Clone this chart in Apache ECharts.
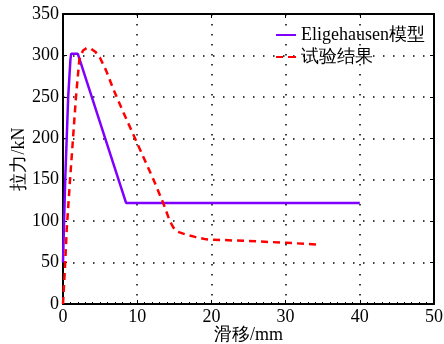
<!DOCTYPE html>
<html>
<head>
<meta charset="utf-8">
<script src="https://cdn.jsdelivr.net/npm/echarts@6/dist/echarts.min.js"></script>
<style>html,body{margin:0;padding:0;background:#fff}#c{width:444px;height:344px}</style>
</head>
<body>
<div id="c"></div>
<script>
var modelName = 'Eligehausen模型';
var testName = '试验结果';
var modelX = [0, 0.3, 0.7, 1.0, 1.1, 2.0, 8.5, 40];
var modelY = [50, 150, 250, 295, 302, 302, 122, 122];
var testX = [0, 0.3, 0.5, 0.95, 1.75, 2.2, 2.7, 3.2, 3.8, 4.4, 5.0, 5.8, 6.8, 8.0, 9.7, 12.2, 13.5, 14.4, 14.9, 15.5, 16.5, 17.8, 19.3, 25, 30, 34.6];
var testY = [0, 50, 90, 150, 250, 295, 306, 309, 308, 304, 297, 282, 259, 234, 200, 150, 122, 100, 92, 87, 84, 81, 78, 76, 74, 71.5];
var xTicks = [0, 10, 20, 30, 40, 50];
var yTicks = [0, 50, 100, 150, 200, 250, 300, 350];

function pairs(xs, ys) { return xs.map(function (x, i) { return [x, ys[i]]; }); }

var font = '"Liberation Serif","Times New Roman",serif';
var gridLine = { show: true, lineStyle: { color: '#000', type: [1.5, 8.5], width: 1.5 } };
var chart = echarts.init(document.getElementById('c'), null, { renderer: 'canvas' });
chart.setOption({
  animation: false,
  backgroundColor: '#fff',
  grid: { left: 63, right: 10, top: 14, bottom: 40, containLabel: false, outerBoundsMode: 'none' },
  legend: {
    right: 14, top: 21, orient: 'vertical', itemGap: 4,
    itemWidth: 20, itemHeight: 14,
    textStyle: { fontFamily: font, fontSize: 18, color: '#000' },
    data: [
      { name: modelName, icon: 'path://M0,6 L20,6 L20,8 L0,8 Z', itemStyle: { color: '#7F00FF' } },
      { name: testName, icon: 'path://M0,6 L7,6 L7,8 L0,8 Z M12,6 L20,6 L20,8 L12,8 Z', itemStyle: { color: '#FF0000' } }
    ]
  },
  xAxis: [{
    type: 'value', min: 0, max: 50, interval: 10,
    name: '滑移/mm', nameLocation: 'middle', nameGap: 22, nameMoveOverlap: false,
    nameTextStyle: { fontFamily: font, fontSize: 18, color: '#000' },
    axisLine: { lineStyle: { color: '#000', width: 2 } },
    axisTick: { inside: true, length: 4, lineStyle: { color: '#000' } },
    minorTick: { show: true, splitNumber: 10, length: 2, lineStyle: { color: '#000' } },
    axisLabel: { fontFamily: font, fontSize: 18, color: '#000', margin: 4,
      formatter: function (v) { return xTicks.indexOf(v) >= 0 ? String(v) : ''; } },
    splitLine: gridLine
  }, {
    type: 'value', min: 0, max: 50, interval: 10, position: 'top',
    axisLine: { onZero: false, lineStyle: { color: '#000', width: 2 } },
    axisTick: { inside: true, length: 4, lineStyle: { color: '#000' } },
    axisLabel: { show: false }, splitLine: { show: false }
  }],
  yAxis: [{
    type: 'value', min: 0, max: 350, interval: 50,
    name: '拉力/kN', nameLocation: 'middle', nameGap: 35, nameRotate: 90, nameMoveOverlap: false,
    nameTextStyle: { fontFamily: font, fontSize: 18, color: '#000' },
    axisLine: { show: true, lineStyle: { color: '#000', width: 2 } },
    axisTick: { show: true, inside: true, length: 4, lineStyle: { color: '#000' } },
    axisLabel: { fontFamily: font, fontSize: 18, color: '#000', margin: 4,
      formatter: function (v) { return yTicks.indexOf(v) >= 0 ? String(v) : ''; } },
    splitLine: gridLine
  }, {
    type: 'value', min: 0, max: 350, interval: 50, position: 'right',
    axisLine: { show: true, onZero: false, lineStyle: { color: '#000', width: 2 } },
    axisTick: { show: true, inside: true, length: 4, lineStyle: { color: '#000' } },
    axisLabel: { show: false }, splitLine: { show: false }
  }],
  series: [{
    name: modelName, type: 'line', data: pairs(modelX, modelY),
    showSymbol: false, symbol: 'none',
    lineStyle: { color: '#7F00FF', width: 2.5 }, itemStyle: { color: '#7F00FF' }
  }, {
    name: testName, type: 'line', data: pairs(testX, testY),
    showSymbol: false, symbol: 'none',
    lineStyle: { color: '#FF0000', width: 2.5, type: [7, 5] }, itemStyle: { color: '#FF0000' }
  }]
});
</script>
</body>
</html>
